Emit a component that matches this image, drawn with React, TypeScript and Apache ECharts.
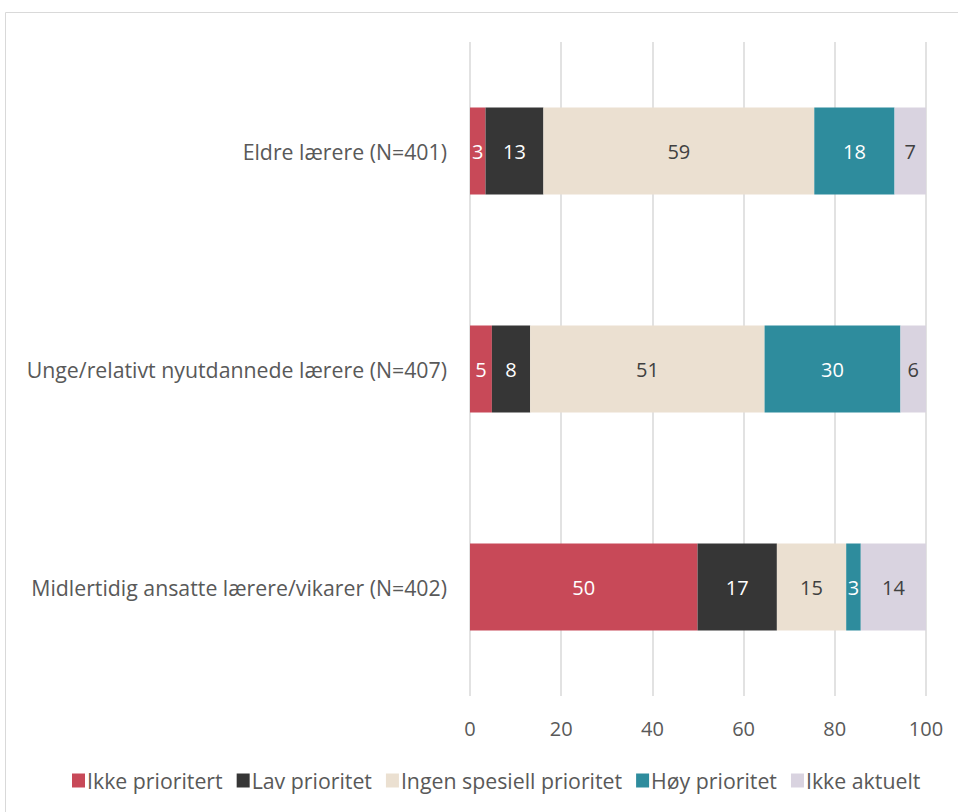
import React, { useEffect, useRef } from "react";
import * as echarts from "echarts";

const categories = [
  "Eldre lærere (N=401)",
  "Unge/relativt nyutdannede lærere (N=407)",
  "Midlertidig ansatte lærere/vikarer (N=402)",
];
const seriesNames = [
  "Ikke prioritert",
  "Lav prioritet",
  "Ingen spesiell prioritet",
  "Høy prioritet",
  "Ikke aktuelt",
];
const ikkePrioritert = [3.4, 4.8, 49.9];
const lavPrioritet = [12.7, 8.4, 17.4];
const ingenSpesiell = [59.4, 51.4, 15.2];
const hoyPrioritet = [17.6, 29.8, 3.2];
const ikkeAktuelt = [6.9, 5.6, 14.3];
const xTicks = [0, 20, 40, 60, 80, 100];

const colors = ["#C84958", "#363636", "#EBE0D1", "#2E8C9D", "#D9D3E0"];
const labelColors = ["#FFFFFF", "#FFFFFF", "#404040", "#FFFFFF", "#404040"];
const FONT = "'Open Sans', Lato, sans-serif";
const FS = 20;
const FS_TEXT = 21.3;

export default function App() {
  const ref = useRef<HTMLDivElement>(null);
  useEffect(() => {
    if (!ref.current) return;
    const chart = echarts.init(ref.current, undefined, { renderer: "svg" });
    const values = [ikkePrioritert, lavPrioritet, ingenSpesiell, hoyPrioritet, ikkeAktuelt];
    chart.setOption({
      animation: false,
      textStyle: { fontFamily: FONT },
      graphic: [
        {
          type: "rect",
          shape: { x: 5.5, y: 12.5, width: 1000, height: 900 },
          style: { fill: "none", stroke: "#D9D9D9", lineWidth: 1 },
          silent: true,
        },
      ],
      grid: { left: 470, right: 32, top: 42, bottom: 116, containLabel: false },
      legend: {
        top: 765,
        left: 67,
        itemWidth: 13,
        itemHeight: 14,
        itemGap: 14,
        icon: "rect",
        textStyle: { fontSize: FS_TEXT, color: "#595959", fontFamily: FONT, padding: [0, 0, 0, -3] },
        data: seriesNames,
      },
      xAxis: {
        type: "value",
        min: xTicks[0],
        max: xTicks[xTicks.length - 1],
        interval: 20,
        axisLine: { show: false },
        axisTick: { show: false },
        splitLine: { show: true, lineStyle: { color: "#D9D9D9", width: 1.5 } },
        axisLabel: { fontSize: FS, color: "#595959", margin: 22, fontFamily: FONT },
      },
      yAxis: {
        type: "category",
        data: categories,
        inverse: true,
        axisLine: { show: false },
        axisTick: { show: false },
        axisLabel: { fontSize: FS_TEXT, color: "#595959", margin: 23, fontFamily: FONT },
      },
      series: seriesNames.map((name, i) => ({
        name,
        type: "bar",
        stack: "total",
        barCategoryGap: "60%",
        data: values[i],
        itemStyle: { color: colors[i] },
        label: {
          show: true,
          position: "inside",
          color: labelColors[i],
          fontSize: FS,
          fontFamily: FONT,
          formatter: (p: any) => String(Math.round(p.value)),
        },
      })),
    });
    return () => chart.dispose();
  }, []);
  return (
    <div
      ref={ref}
      style={{ position: "absolute", left: 0, top: 0, width: 958, height: 812, background: "#fff" }}
    />
  );
}
